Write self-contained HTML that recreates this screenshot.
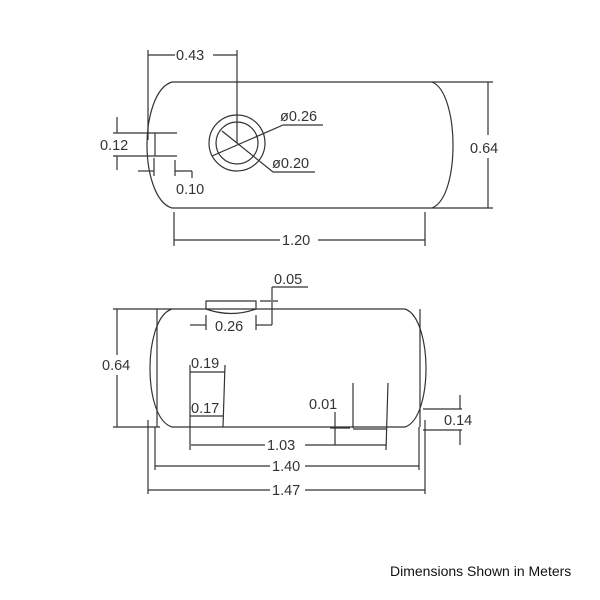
<!DOCTYPE html>
<html><head><style>
html,body{margin:0;padding:0;background:#fff;width:600px;height:600px;overflow:hidden}
svg{display:block}
text{font-family:"Liberation Sans",sans-serif;fill:#333}
</style></head><body>
<svg width="600" height="600" viewBox="0 0 600 600" xmlns="http://www.w3.org/2000/svg">
<g stroke="#333" stroke-width="1.2" fill="none">
<!-- top view -->
<path d="M172,82 L432,82 C447,88 453,120 453,145 C453,172 447,202 432,208 L172,208 C155,203 147,172 147,145 C147,118 155,87 172,82 Z"/>
<circle cx="237" cy="143" r="28"/>
<circle cx="237" cy="143" r="21"/>
<line x1="237" y1="50" x2="237" y2="143"/>
<line x1="148" y1="50" x2="148" y2="140"/>
<line x1="148" y1="55" x2="175" y2="55"/><line x1="213" y1="55" x2="237" y2="55"/>
<line x1="212" y1="156" x2="283" y2="125"/><line x1="283" y1="125" x2="323" y2="125"/>
<line x1="222" y1="131" x2="273" y2="172"/><line x1="273" y1="172" x2="315" y2="172"/>
<line x1="432" y1="82" x2="493" y2="82"/><line x1="432" y1="208" x2="493" y2="208"/>
<line x1="488" y1="82" x2="488" y2="135"/><line x1="488" y1="158" x2="488" y2="208"/>
<line x1="174" y1="212" x2="174" y2="246"/><line x1="425" y1="212" x2="425" y2="246"/>
<line x1="174" y1="240" x2="280" y2="240"/><line x1="318" y1="240" x2="425" y2="240"/>
<line x1="113" y1="133" x2="177" y2="133"/><line x1="113" y1="156" x2="177" y2="156"/>
<line x1="117" y1="117" x2="117" y2="133"/><line x1="117" y1="156" x2="117" y2="170"/>
<line x1="155" y1="133" x2="155" y2="156"/>
<line x1="138" y1="171" x2="154" y2="171"/><line x1="154" y1="158" x2="154" y2="176"/>
<line x1="175" y1="160" x2="175" y2="176"/><line x1="175" y1="171" x2="192" y2="171"/><line x1="192" y1="171" x2="192" y2="178"/>
<!-- bottom view -->
<path d="M172,309 L405,309 C420,314 426,345 426,368 C426,393 420,422 405,427 L172,427 C156,422 150,393 150,368 C150,345 156,314 172,309 Z"/>
<path d="M206,301 L256,301 L256,309 Q231,318 206,309 Z"/>
<line x1="157" y1="309" x2="157" y2="427"/><line x1="420" y1="309" x2="420" y2="427"/>
<line x1="113" y1="309" x2="172" y2="309"/><line x1="113" y1="427" x2="160" y2="427"/>
<line x1="117" y1="309" x2="117" y2="355"/><line x1="117" y1="375" x2="117" y2="427"/>
<line x1="190" y1="365" x2="190" y2="450"/><line x1="225" y1="365" x2="223" y2="427"/>
<line x1="190" y1="372" x2="225" y2="372"/><line x1="190" y1="416" x2="223" y2="416"/>
<line x1="353" y1="383" x2="353" y2="428"/><line x1="388" y1="383" x2="386" y2="450"/>
<line x1="353" y1="429" x2="386" y2="429"/>
<line x1="335" y1="412" x2="335" y2="445"/><line x1="330" y1="428" x2="350" y2="428"/>
<line x1="191" y1="445" x2="265" y2="445"/><line x1="305" y1="445" x2="386" y2="445"/>
<line x1="155" y1="427" x2="155" y2="470"/><line x1="148" y1="420" x2="148" y2="494"/>
<line x1="419" y1="427" x2="419" y2="470"/><line x1="425" y1="420" x2="425" y2="494"/>
<line x1="155" y1="466" x2="270" y2="466"/><line x1="305" y1="466" x2="419" y2="466"/>
<line x1="148" y1="490" x2="270" y2="490"/><line x1="305" y1="490" x2="425" y2="490"/>
<line x1="190" y1="325" x2="206" y2="325"/><line x1="206" y1="315" x2="206" y2="330"/>
<line x1="256" y1="315" x2="256" y2="330"/><line x1="256" y1="325" x2="272" y2="325"/>
<line x1="272" y1="302" x2="272" y2="325"/><line x1="272" y1="287" x2="308" y2="287"/>
<line x1="272" y1="287" x2="272" y2="300"/><line x1="260" y1="301" x2="278" y2="301"/>
<line x1="423" y1="409" x2="462" y2="409"/><line x1="423" y1="430" x2="462" y2="430"/>
<line x1="460" y1="395" x2="460" y2="409"/><line x1="460" y1="430" x2="460" y2="445"/>
</g>
<g font-size="14.5">
<text x="176" y="60">0.43</text>
<text x="280" y="121">ø0.26</text>
<text x="272" y="168">ø0.20</text>
<text x="470" y="153">0.64</text>
<text x="282" y="245">1.20</text>
<text x="100" y="150">0.12</text>
<text x="176" y="194">0.10</text>
<text x="274" y="284">0.05</text>
<text x="215" y="331">0.26</text>
<text x="102" y="370">0.64</text>
<text x="191" y="368">0.19</text>
<text x="191" y="413">0.17</text>
<text x="309" y="409">0.01</text>
<text x="444" y="425">0.14</text>
<text x="267" y="450">1.03</text>
<text x="272" y="471">1.40</text>
<text x="272" y="495">1.47</text>
</g>
<text x="390" y="576" font-size="14" style="fill:#111">Dimensions Shown in Meters</text>
</svg>
</body></html>
